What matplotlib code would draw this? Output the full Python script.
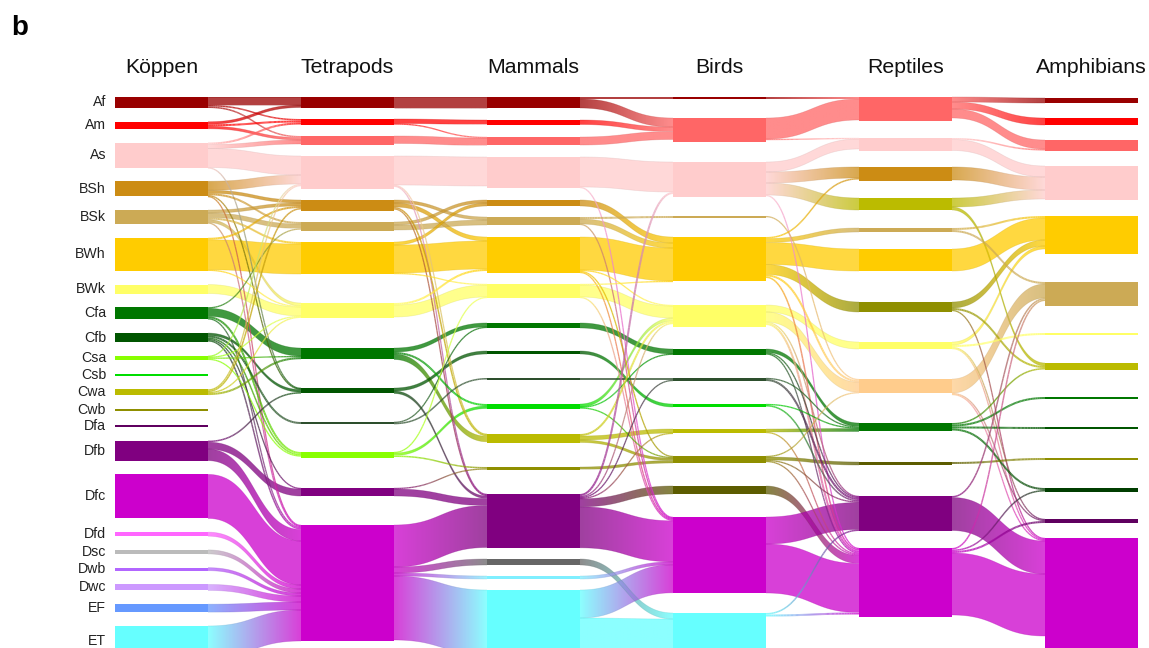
import numpy as np
import matplotlib
matplotlib.use("Agg")
import matplotlib.pyplot as plt
from matplotlib.path import Path
from matplotlib.collections import LineCollection
from matplotlib.colors import to_rgb

plt.rcParams["font.family"] = ["Liberation Sans", "DejaVu Sans"]

# ---------------------------------------------------------------- data
stage_titles = ["Köppen", "Tetrapods", "Mammals", "Birds", "Reptiles", "Amphibians"]

koppen_classes = ["Af", "Am", "As", "BSh", "BSk", "BWh", "BWk", "Cfa", "Cfb", "Csa", "Csb",
                  "Cwa", "Cwb", "Dfa", "Dfb", "Dfc", "Dfd", "Dsc", "Dwb", "Dwc", "EF", "ET"]
koppen_counts = [11, 7, 25, 15, 14, 33, 9, 12, 9, 4, 2, 6, 2, 2, 20, 44, 4, 4, 3, 6, 8, 31]

tetrapod_classes = ["Af", "Am", "Aw", "As", "BSh", "BSk", "BWh", "BWk", "Cfa", "Cfb", "Cfc",
                    "Csa", "Dfb", "Dfc"]
tetrapod_counts = [11, 6, 9, 33, 11, 9, 32, 15, 11, 5, 2, 6, 8, 116]

mammal_classes = ["Af", "Am", "Aw", "As", "BSh", "BSk", "BWh", "BWk", "Cfa", "Cfb", "Cfc",
                  "Csb", "Cwa", "Cwb", "Dfb", "Dsb", "Dwd", "ET"]
mammal_counts = [11, 4.5, 8, 31, 6, 8, 36, 14, 5, 3, 2, 5, 9, 3, 54, 6, 3, 64]

bird_classes = ["Af", "Aw", "As", "BSk", "BWh", "BWk", "Cfa", "Cfc", "Csb", "Cwa", "Cwb",
                "Cwc", "Dfc", "ET"]
bird_counts = [2, 24, 35, 2, 44, 22, 6, 3, 3, 4, 7, 8, 76, 40]

reptile_classes = ["Aw", "As", "BSh", "Cwa", "BSk", "BWh", "Cwb", "BWk", "Dsa", "Cfa", "Cwc",
                   "Dfb", "Dfc"]
reptile_counts = [24, 13, 14, 12, 4, 22, 10, 7, 14, 8, 3, 35, 69]

amphibian_classes = ["Af", "Am", "Aw", "As", "BWh", "BSk", "BWk", "Cwa", "Cfa", "Cfb", "Cwb",
                     "Dwa", "Dfa", "Dfc"]
amphibian_counts = [5, 7, 11, 34, 38, 24, 2, 7, 2, 2, 2, 4, 4, 115]

flows_koppen_tetrapods = [
    ("Af", "Af", 8), ("Af", "Am", 1.5), ("Af", "Aw", 1.5),
    ("Am", "Af", 2.5), ("Am", "Am", 2), ("Am", "Aw", 2.5),
    ("As", "Am", 2), ("As", "Aw", 4), ("As", "As", 19), ("As", "Cfb", 0.8),
    ("BSh", "As", 9), ("BSh", "BSh", 3), ("BSh", "BSk", 2), ("BSh", "Cfb", 0.8), ("BSh", "Dfc", 1),
    ("BSk", "BSh", 3), ("BSk", "BSk", 4.5), ("BSk", "BWh", 2), ("BSk", "BWk", 3), ("BSk", "Dfc", 1),
    ("BWh", "BSh", 2), ("BWh", "BWh", 30), ("BWh", "BWk", 1),
    ("BWk", "BWk", 9),
    ("Cfa", "BSk", 1), ("Cfa", "Cfa", 8), ("Cfa", "Csa", 2), ("Cfa", "Dfc", 1),
    ("Cfb", "Cfb", 2.5), ("Cfb", "Cfc", 2), ("Cfb", "Csa", 1.5), ("Cfb", "Dfb", 1), ("Cfb", "Dfc", 1.5),
    ("Csa", "As", 1), ("Csa", "BWk", 0.8), ("Csa", "Cfa", 1.2), ("Csa", "Csa", 1),
    ("Cwa", "As", 1.2), ("Cwa", "BSh", 1.5), ("Cwa", "BWk", 1), ("Cwa", "Cfa", 2),
    ("Dfb", "Cfb", 1.5), ("Dfb", "Dfb", 7), ("Dfb", "Dfc", 11.5),
    ("Dfc", "Dfc", 44), ("Dfd", "Dfc", 4), ("Dsc", "Dfc", 4), ("Dwb", "Dfc", 3),
    ("Dwc", "Dfc", 6), ("EF", "Dfc", 8), ("ET", "Dfc", 31),
]

flows_tetrapods_mammals = [
    ("Af", "Af", 11),
    ("Am", "Am", 4.5), ("Am", "Aw", 1),
    ("Aw", "Aw", 7.5),
    ("As", "As", 29), ("As", "Cwa", 0.8), ("As", "Dfb", 1),
    ("BSh", "BSk", 3), ("BSh", "BWh", 4), ("BSh", "Cwa", 1.5), ("BSh", "Dfb", 1),
    ("BSk", "BSh", 3), ("BSk", "BSk", 5),
    ("BWh", "BSh", 3), ("BWh", "BWh", 28), ("BWh", "BWk", 1),
    ("BWk", "BWh", 2), ("BWk", "BWk", 12),
    ("Cfa", "Cfa", 4), ("Cfa", "Csb", 2), ("Cfa", "Cwa", 5.5),
    ("Cfb", "Cfb", 3), ("Cfb", "Dfb", 2.5),
    ("Cfc", "Cfa", 0.8), ("Cfc", "Cfc", 1.5),
    ("Csa", "BWk", 1), ("Csa", "Csb", 2.5), ("Csa", "Cwb", 1.5),
    ("Dfb", "Cwb", 1), ("Dfb", "Dfb", 7),
    ("Dfc", "Dfb", 42), ("Dfc", "Dsb", 6), ("Dfc", "Dwd", 3), ("Dfc", "ET", 64),
]

flows_mammals_birds = [
    ("Af", "Af", 2), ("Af", "Aw", 9),
    ("Am", "Aw", 4.5),
    ("Aw", "Aw", 8),
    ("As", "As", 30), ("As", "Dfc", 1),
    ("BSh", "BWh", 6),
    ("BSk", "BSk", 2), ("BSk", "BWh", 5), ("BSk", "Dfc", 0.8),
    ("BWh", "BWh", 33), ("BWh", "BWk", 1), ("BWh", "Cwb", 1), ("BWh", "Dfc", 1),
    ("BWk", "BWh", 1), ("BWk", "BWk", 12), ("BWk", "Dfc", 1),
    ("Cfa", "Cfa", 5),
    ("Cfb", "Csb", 3),
    ("Cfc", "Cfc", 2),
    ("Csb", "BWk", 3), ("Csb", "Cfa", 0.5), ("Csb", "Cwb", 1),
    ("Cwa", "BWk", 2), ("Cwa", "Cwa", 4), ("Cwa", "Cwb", 2.5),
    ("Cwb", "Cwb", 2.5),
    ("Dfb", "As", 2), ("Dfb", "BWk", 1), ("Dfb", "Cfc", 1), ("Dfb", "Cwa", 0.8),
    ("Dfb", "Cwc", 8), ("Dfb", "Dfc", 41),
    ("Dsb", "ET", 6),
    ("Dwd", "Dfc", 3),
    ("ET", "Dfc", 28), ("ET", "ET", 34),
]

flows_birds_reptiles = [
    ("Af", "Aw", 2),
    ("Aw", "Aw", 21), ("Aw", "As", 1),
    ("As", "As", 10), ("As", "BSh", 11), ("As", "Cwa", 12), ("As", "Dfc", 1),
    ("BSk", "Dsa", 1.2),
    ("BWh", "BSh", 1.5), ("BWh", "BSk", 4), ("BWh", "BWh", 22), ("BWh", "Cwb", 10),
    ("BWh", "Dsa", 2), ("BWh", "Dfc", 1.5),
    ("BWk", "BWk", 7), ("BWk", "Dsa", 10), ("BWk", "Dfb", 1), ("BWk", "Dfc", 2),
    ("Cfa", "Cfa", 3.5), ("Cfa", "Dfb", 1), ("Cfa", "Dfc", 1),
    ("Cfc", "Cfa", 1), ("Cfc", "Dfb", 2),
    ("Csb", "Cfa", 1), ("Csb", "Dfb", 1.5),
    ("Cwa", "Cfa", 3), ("Cwa", "Dfc", 1),
    ("Cwb", "Dsa", 1), ("Cwb", "Cwc", 3), ("Cwb", "Dfb", 1), ("Cwb", "Dfc", 1),
    ("Cwc", "Dfc", 8),
    ("Dfc", "Dfb", 27), ("Dfc", "Dfc", 49),
    ("ET", "Dfb", 1.5), ("ET", "Dfc", 2),
]

flows_reptiles_amphibians = [
    ("Aw", "Af", 5), ("Aw", "Am", 7), ("Aw", "Aw", 9),
    ("As", "Aw", 1.5), ("As", "As", 11),
    ("BSh", "As", 13),
    ("Cwa", "As", 9), ("Cwa", "Cwa", 3),
    ("BSk", "BWh", 2), ("BSk", "BSk", 2),
    ("BWh", "BWh", 22),
    ("Cwb", "BWh", 6), ("Cwb", "Cwa", 2), ("Cwb", "Dfc", 1),
    ("BWk", "BWh", 3), ("BWk", "BWk", 2), ("BWk", "Dfa", 1), ("BWk", "Dfc", 1),
    ("Dsa", "BSk", 14), ("Dsa", "Dfa", 1), ("Dsa", "Dfc", 1),
    ("Cfa", "Cwa", 1.5), ("Cfa", "Cfa", 2), ("Cfa", "Cfb", 2), ("Cfa", "Dwa", 2),
    ("Cwc", "Cwb", 2),
    ("Dfb", "BSk", 1.5), ("Dfb", "Dfc", 33),
    ("Dfc", "BSk", 1.5), ("Dfc", "Dwa", 1.5), ("Dfc", "Dfa", 2), ("Dfc", "Dfc", 62),
]

# ---------------------------------------------------------------- style
CLASS_COLORS = {
    "Af": "#990000", "Am": "#FF0000", "Aw": "#FF6666", "As": "#FFCCCC",
    "BSh": "#CC8C14", "BSk": "#CCAA55", "BWh": "#FFCC00", "BWk": "#FFFF66",
    "Cfa": "#007700", "Cfb": "#005500", "Cfc": "#2D4F2D",
    "Csa": "#88FF00", "Csb": "#00DD00", "Cwa": "#BBBB00", "Cwb": "#8F8F00", "Cwc": "#5C5C00",
    "Dfa": "#5F005F", "Dfb": "#800080", "Dfc": "#CC00CC", "Dfd": "#FF66FF",
    "Dsa": "#FFCC8C", "Dsb": "#666666", "Dsc": "#BBBBBB",
    "Dwa": "#003D00", "Dwb": "#B266FF", "Dwc": "#CC99FF", "Dwd": "#7FEFFF",
    "EF": "#6699FF", "ET": "#66FFFF",
}

# vertical spacing before each node of a column (pixels)
koppen_gaps = [97] + [13.76] * 21
tetrapod_gaps = [97, 11, 11, 11, 11, 11, 11, 29, 30, 29, 29, 28, 30, 29]
mammal_gaps = [97, 12, 12.5, 12, 12, 11, 12, 11, 25, 23, 24, 24, 25, 24, 24, 11, 11, 11]
bird_gaps = [97, 19, 20, 19, 19, 24, 22, 23, 23, 22, 23, 23, 23, 20]
reptile_gaps = [97, 17, 16, 17, 18, 17, 31, 30, 30, 30, 31, 31, 17]
amphibian_gaps = [98, 15, 15, 15, 16, 28, 27, 28, 27, 28, 29, 28, 27, 15]

FIG_W, FIG_H = 1149, 648
COL_LEFT0, COL_STEP, NODE_W = 115, 186, 93
FLOW_ALPHA = 0.75
EDGE_ALPHA = 0.35
THIN = 2.5

columns = [
    (koppen_classes, koppen_counts, koppen_gaps),
    (tetrapod_classes, tetrapod_counts, tetrapod_gaps),
    (mammal_classes, mammal_counts, mammal_gaps),
    (bird_classes, bird_counts, bird_gaps),
    (reptile_classes, reptile_counts, reptile_gaps),
    (amphibian_classes, amphibian_counts, amphibian_gaps),
]
stage_flows = [flows_koppen_tetrapods, flows_tetrapods_mammals, flows_mammals_birds,
               flows_birds_reptiles, flows_reptiles_amphibians]


def layout_column(classes, counts, gaps):
    nodes = {}
    y = 0.0
    for cls, n, g in zip(classes, counts, gaps):
        y += g
        nodes[cls] = (y, n)
        y += n
    return nodes


def bezier(x0, x1, ya, yb, n=90):
    t = np.linspace(0, 1, n)
    xm = (x0 + x1) / 2
    x = (1 - t) ** 3 * x0 + 3 * (1 - t) ** 2 * t * xm + 3 * (1 - t) * t ** 2 * xm + t ** 3 * x1
    y = (1 - t) ** 3 * ya + 3 * (1 - t) ** 2 * t * ya + 3 * (1 - t) * t ** 2 * yb + t ** 3 * yb
    return x, y


def stack(flows, src, tgt):
    out_off = {k: v[0] for k, v in src.items()}
    in_off = {k: v[0] for k, v in tgt.items()}
    y_src, y_tgt = {}, {}
    for i in sorted(range(len(flows)), key=lambda i: (src[flows[i][0]][0], tgt[flows[i][1]][0])):
        s, _, v = flows[i]
        y_src[i] = out_off[s]
        out_off[s] += v
    for i in sorted(range(len(flows)), key=lambda i: (tgt[flows[i][1]][0], src[flows[i][0]][0])):
        _, t, v = flows[i]
        y_tgt[i] = in_off[t]
        in_off[t] += v
    return y_src, y_tgt


def gradient_line(ax, xc, yc, x0, x1, c0, c1, lw, alpha, z):
    pts = np.column_stack([xc, yc])
    segs = np.stack([pts[:-1], pts[1:]], axis=1)
    t = ((xc[:-1] + xc[1:]) / 2 - x0) / (x1 - x0)
    cols = (1 - t)[:, None] * c0 + t[:, None] * c1
    rgba = np.column_stack([cols, np.full(len(cols), alpha)])
    ax.add_collection(LineCollection(segs, colors=rgba, linewidths=lw,
                                     capstyle="butt", zorder=z))


def draw_band(ax, x0, x1, ys, yt, v, c0, c1):
    xt, ytop = bezier(x0, x1, ys, yt)
    xb, ybot = bezier(x0, x1, ys + v, yt + v)
    verts = np.vstack([np.column_stack([xt, ytop]),
                       np.column_stack([xb[::-1], ybot[::-1]])])
    verts = np.vstack([verts, verts[:1]])
    path = Path(verts, closed=True)
    g = np.linspace(0, 1, 128)
    rgba = np.zeros((1, 128, 4))
    rgba[0, :, :3] = (1 - g)[:, None] * c0 + g[:, None] * c1
    rgba[0, :, 3] = FLOW_ALPHA
    lo, hi = min(ytop.min(), ybot.min()), max(ytop.max(), ybot.max())
    im = ax.imshow(rgba, extent=(x0, x1, hi, lo), aspect="auto",
                   interpolation="bilinear", zorder=1)
    im.set_clip_path(path, transform=ax.transData)
    # faint outline along both edges of the ribbon
    gradient_line(ax, xt, ytop, x0, x1, c0 * 0.85, c1 * 0.85, 0.5, EDGE_ALPHA, 1.2)
    gradient_line(ax, xb, ybot, x0, x1, c0 * 0.85, c1 * 0.85, 0.5, EDGE_ALPHA, 1.2)


def draw_thread(ax, x0, x1, ys, yt, v, c0, c1):
    xc, yc = bezier(x0, x1, ys + v / 2, yt + v / 2, n=70)
    lw = max(v, 1.3) * 72 / 100
    gradient_line(ax, xc, yc, x0, x1, c0, c1, lw, FLOW_ALPHA, 1.5)


fig = plt.figure(figsize=(FIG_W / 100, FIG_H / 100), dpi=100)
ax = fig.add_axes([0, 0, 1, 1])
ax.axis("off")

laid = [layout_column(*c) for c in columns]
lefts = [COL_LEFT0 + COL_STEP * i for i in range(len(columns))]

# links between neighbouring stages
for k, flows in enumerate(stage_flows):
    src, tgt = laid[k], laid[k + 1]
    y_src, y_tgt = stack(flows, src, tgt)
    x0, x1 = lefts[k] + NODE_W, lefts[k + 1]
    for i, (s, t, v) in enumerate(flows):
        c0 = np.array(to_rgb(CLASS_COLORS[s]))
        c1 = np.array(to_rgb(CLASS_COLORS[t]))
        if v < THIN:
            draw_thread(ax, x0, x1, y_src[i], y_tgt[i], v, c0, c1)
        else:
            draw_band(ax, x0, x1, y_src[i], y_tgt[i], v, c0, c1)

# stage nodes
for k, nodes in enumerate(laid):
    for cls, (top, n) in nodes.items():
        ax.add_patch(plt.Rectangle((lefts[k], top), NODE_W, n, facecolor=CLASS_COLORS[cls],
                                   edgecolor="none", zorder=3))

# climate class labels on the first stage
for cls, (top, n) in laid[0].items():
    ax.text(lefts[0] - 9, top + n / 2, cls, ha="right", va="center", fontsize=10.2,
            color="#222222", zorder=4)

for k, title in enumerate(stage_titles):
    ax.text(lefts[k] + NODE_W / 2, 73, title, ha="center", va="baseline", fontsize=15.3,
            color="#111111")

ax.text(11, 35, "b", ha="left", va="baseline", fontsize=20, fontweight="bold", color="black")

ax.set_xlim(0, FIG_W)
ax.set_ylim(FIG_H, 0)
fig.savefig("out.png", dpi=100, facecolor="white")
